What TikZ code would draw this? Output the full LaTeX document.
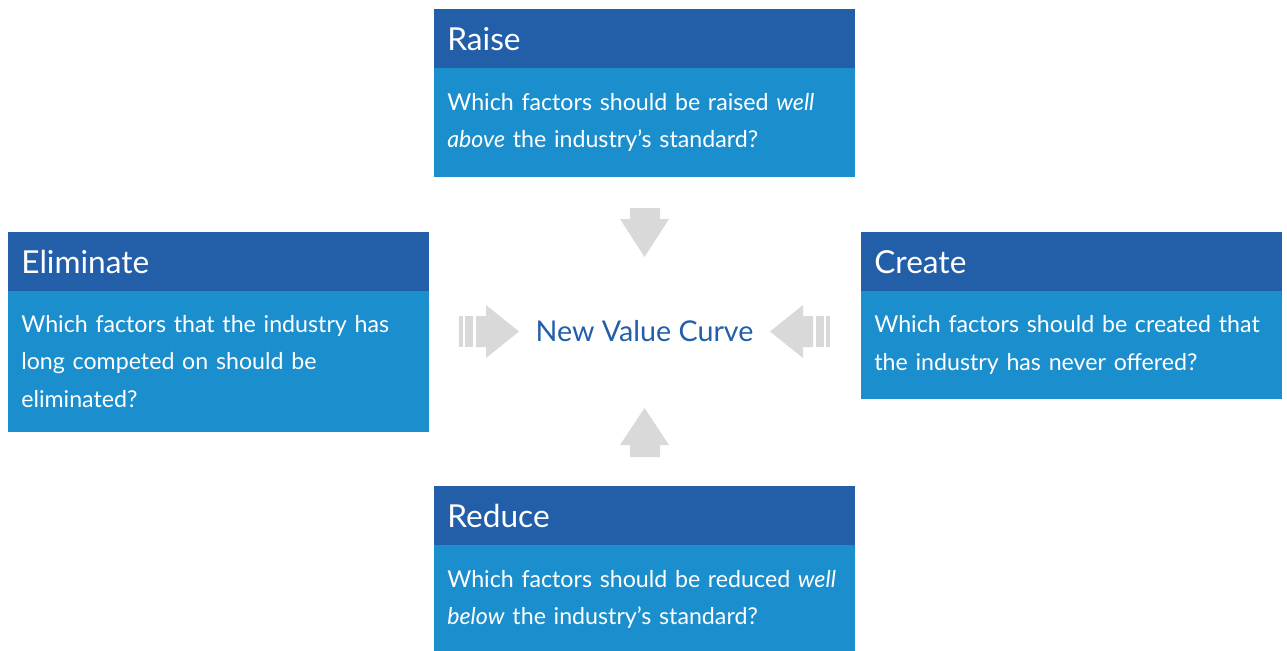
\documentclass[tikz,border=0pt]{standalone}
\usepackage{fontspec}
\setmainfont{Lato}
\usetikzlibrary{positioning}
\definecolor{headblue}{RGB}{35,94,169}
\definecolor{bodyblue}{RGB}{27,142,206}
\definecolor{arrowgrey}{RGB}{217,217,217}

\begin{document}
\begin{tikzpicture}[x=0.02cm, y=-0.02cm,
    head/.style={rectangle, fill=headblue, text=white, anchor=north west, minimum height=1.18cm,
        inner xsep=0.26cm, inner ysep=0pt, text width=7.9cm, align=left, text depth=0pt,
        font=\fontsize{18}{21}\selectfont},
    body/.style={rectangle, fill=bodyblue, text=white, inner xsep=0.26cm, inner ysep=0pt,
        text width=7.9cm, align=left, font=\fontsize{13.2}{21.5}\selectfont}]
    \useasboundingbox (0,0) rectangle (1287,650);

    % the four action boxes: title bar on top, question below
    \foreach \name/\x/\y/\h/\title/\question in {
        raise/434/9/2.18cm/Raise/{Which factors should be raised \emph{well}\\\emph{above} the industry's standard?},
        eliminate/8/232/2.82cm/Eliminate/{Which factors that the industry has\\long competed on should be\\eliminated?},
        create/861/232/2.16cm/Create/{Which factors should be created that\\the industry has never offered?},
        reduce/434/486/2.18cm/Reduce/{Which factors should be reduced \emph{well}\\\emph{below} the industry's standard?}}{
        \node[head] (\name) at (\x,\y) {\title};
        \node[body, minimum height=\h, below=-0.02cm of \name] (\name body) {\question};
    }

    \node[text=headblue, font=\fontsize{16.3}{20}\selectfont] (curve) at (644.5,331.5) {New Value Curve};

    % vertical block arrows
    \foreach \base/\neck/\tip in {208/219/257, 457/445/408}
        \fill[arrowgrey] (630,\base) -- (660,\base) -- (660,\neck) -- (669,\neck)
            -- (644.5,\tip) -- (620,\neck) -- (630,\neck) -- cycle;

    % horizontal block arrows with striped tails, mirrored about the centre
    \foreach \flip in {1,-1}{
        \begin{scope}[shift={(644.5,0)}, xscale=\flip]
            \fill[arrowgrey] (-168.5,316) -- (-158.5,316) -- (-158.5,305) -- (-125.5,331.5)
                -- (-158.5,358) -- (-158.5,347) -- (-168.5,347) -- cycle;
            \fill[arrowgrey] (-185.5,316) rectangle (-181.5,347);
            \fill[arrowgrey] (-179.5,316) rectangle (-171.5,347);
        \end{scope}
    }
\end{tikzpicture}
\end{document}
